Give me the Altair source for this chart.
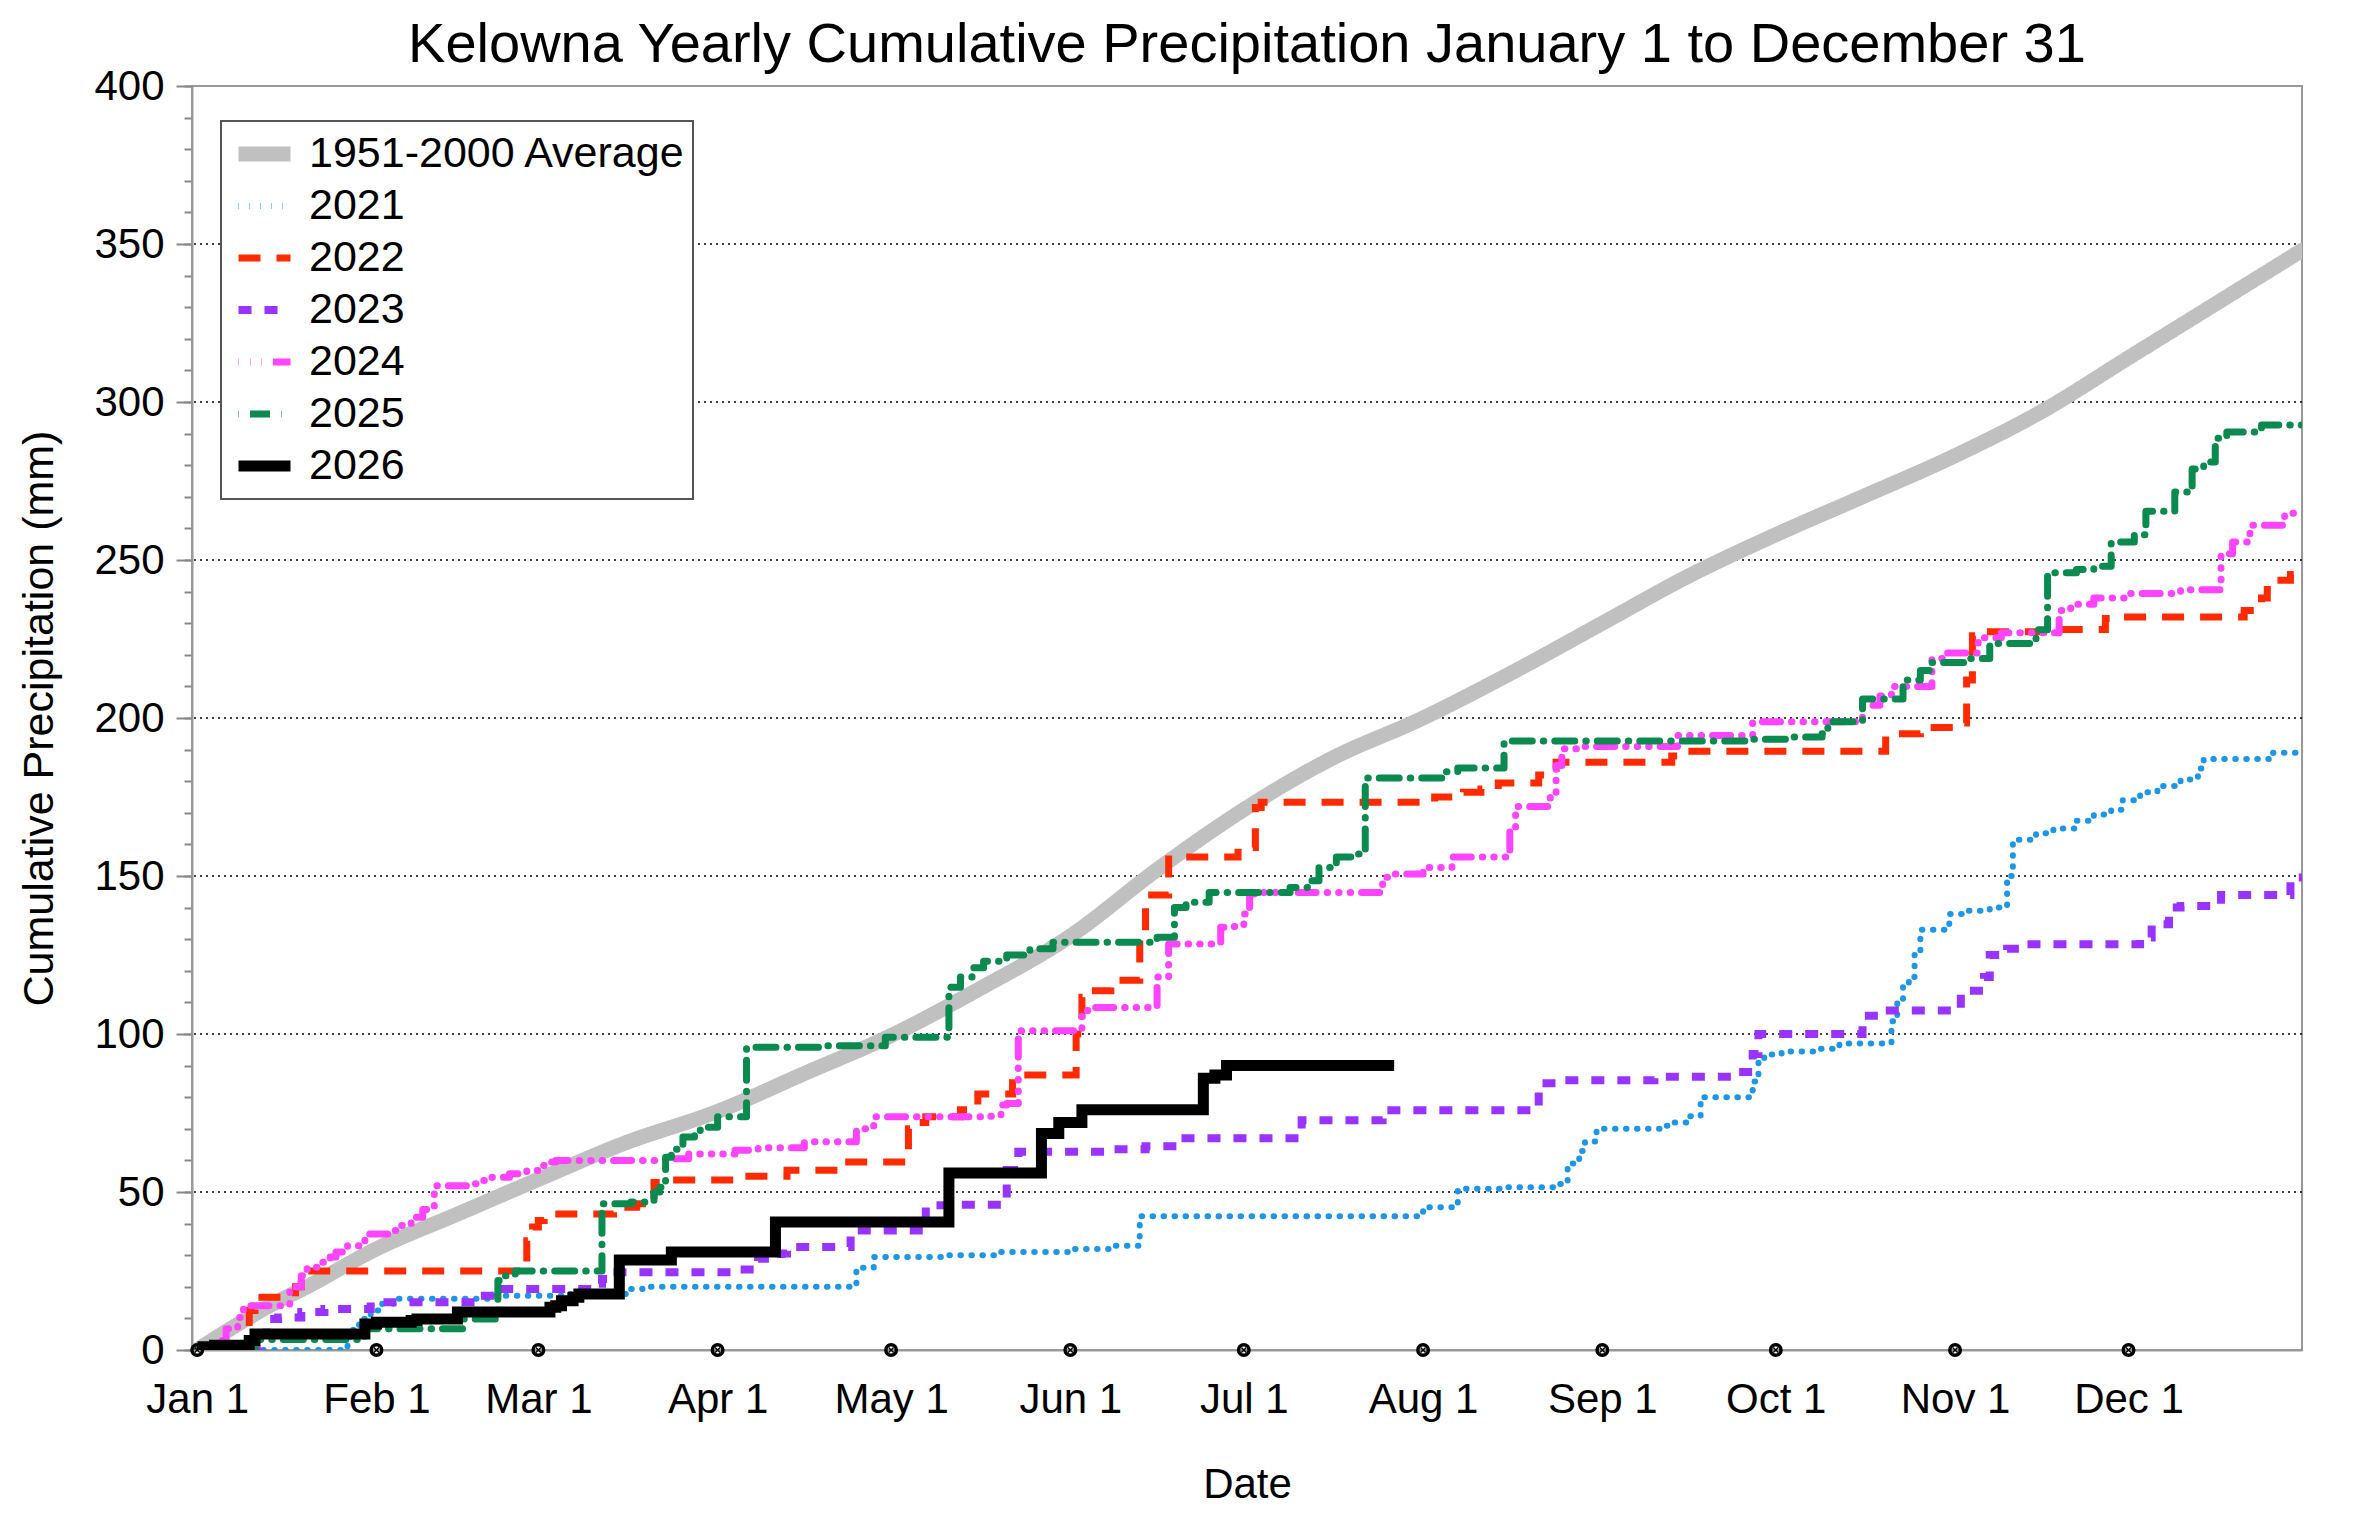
import altair as alt
import pandas as pd

# x axis is day of year, 0 = Jan 1
month_days = [0, 31, 59, 90, 120, 151, 181, 212, 243, 273, 304, 334]
month_labels = ["Jan 1", "Feb 1", "Mar 1", "Apr 1", "May 1", "Jun 1",
                "Jul 1", "Aug 1", "Sep 1", "Oct 1", "Nov 1", "Dec 1"]
grid_mm = [50, 100, 150, 200, 250, 300, 350]
major_ticks = list(range(0, 401, 50))
minor_ticks = list(range(0, 401, 10))

avg_days = [0, 6, 12, 19, 31, 45, 59, 74, 90, 105, 120, 135, 151, 166, 181,
            196, 212, 227, 243, 258, 273, 288, 304, 319, 334, 349, 364]
avg_mm = [0, 7, 13.5, 20, 32, 43, 54, 65.5, 75.5, 87.5, 99.5, 114, 131, 152, 171,
          187, 200, 214, 230, 245, 258, 270, 283, 297, 314, 331, 348]

# yearly series: day on which the running total changes, and the new total
d2021 = [0, 26, 27, 28, 30, 32, 34, 51, 64, 75, 77, 114, 117, 130, 138, 151, 158, 163,
         212, 218, 226, 235, 237, 239, 240, 242, 253, 255, 258, 260, 269, 270, 271, 274,
         280, 284, 293, 294, 295, 296, 297, 298, 303, 306, 310, 313, 314, 318, 321, 325,
         328, 331, 333, 336, 339, 343, 346, 347, 359, 364]
v2021 = [0, 4, 7, 9.8, 12.5, 14.6, 16.2, 17.2, 17.7, 19.3, 20, 26, 29.4, 30, 31, 32, 33, 42.3,
         45.2, 51, 51.5, 52.5, 59, 63, 66, 70, 71, 72, 74, 80, 85, 91.6, 93.5, 94.5,
         95.3, 97, 104, 110.5, 116, 118, 125, 133, 138, 139, 140, 150, 161.5, 163.5, 165, 167.5,
         169.5, 171, 174, 176.5, 178.5, 180.5, 184, 187, 189, 189]

d2022 = [0, 9, 10, 17, 18, 19, 57, 58, 59, 60, 72, 76, 77, 78, 79, 80, 93, 102, 111,
         123, 124, 126, 132, 135, 141, 152, 153, 154, 158, 163, 164, 168, 170, 180, 183,
         184, 214, 219, 222, 225, 232, 234, 235, 255, 257, 292, 298, 303, 306, 307, 309,
         322, 330, 332, 354, 357, 358, 362, 364]
v2022 = [0, 12.5, 16.7, 20, 24, 25, 34.6, 38.9, 41, 43, 45.2, 46.3, 47.3, 49, 53, 53.8, 55, 56.9, 59.5,
         70, 72, 73.8, 76, 81, 87, 100, 111.6, 113.7, 117, 131.6, 144, 155.4, 156, 159, 171.7,
         173.3, 175, 176.5, 177.5, 179.4, 182, 184, 186, 188, 189.5, 195, 197, 198.4, 212, 226, 227.3,
         228, 231.5, 232, 234, 238, 243.6, 245.4, 245.4]

d2023 = [0, 11, 12, 14, 18, 22, 30, 49, 52, 69, 70, 71, 93, 97, 101, 102, 113, 126, 131,
         140, 142, 158, 164, 170, 191, 205, 232, 235, 252, 266, 269, 270, 288, 292, 305,
         309, 310, 313, 316, 336, 338, 341, 343, 350, 362, 364]
v2023 = [0, 5, 9.8, 10.3, 12, 13, 15.1, 17.2, 19.3, 21, 22.5, 24.6, 25.5, 28.9, 30.5, 32.6, 37.8, 45.8, 46,
         57, 62.7, 63.5, 64.5, 67, 72.7, 75.9, 84.4, 85.4, 86.5, 88, 93.7, 100, 105.8, 107.4, 113.7,
         118, 125, 127, 128.4, 130.5, 134.7, 140, 140.5, 144, 149.5, 149.5]

d2024 = [0, 2, 4, 5, 7, 8, 16, 17, 18, 19, 21, 23, 24, 26, 29, 33, 35, 37, 39, 41, 48, 49,
         51, 54, 57, 59, 61, 62, 81, 85, 93, 97, 105, 114, 117, 137, 139, 140, 142, 153, 155,
         166, 168, 177, 179, 181, 182, 183, 205, 207, 212, 217, 227, 228, 234, 235, 236, 239,
         256, 269, 288, 291, 293, 300, 302, 308, 312, 322, 324, 328, 334, 343, 350, 352, 355,
         361, 364]
v2024 = [0, 2, 3, 6.7, 10.3, 14, 18.8, 19.9, 23.5, 26.2, 27.8, 29.4, 31, 33, 36.7, 37.8, 39.4, 42, 44.5, 52, 52.6, 53.6,
         54.7, 55.8, 56.8, 58.4, 59.5, 60, 60.5, 62, 63.2, 64, 65.9, 70, 73.8, 74, 77.5, 78, 101, 107.4, 108.4,
         118, 128.5, 133.8, 134, 138, 144.3, 144.8, 149.6, 150.6, 152.7, 156, 165, 172, 176, 185, 190.3, 191,
         194.5, 198.8, 204, 207, 210, 218.8, 220.6, 225.4, 227, 234, 236, 238, 239.4, 240.6, 252, 255.7, 261,
         264.8, 264.8]

d2025 = [0, 10, 29, 46, 52, 53, 55, 70, 75, 78, 79, 80, 81, 82, 84, 86, 87, 90, 95, 109,
         119, 130, 132, 134, 136, 140, 144, 148, 166, 169, 171, 175, 189, 192, 194, 197, 200,
         202, 216, 218, 226, 269, 275, 281, 282, 288, 295, 298, 300, 306, 310, 318, 320, 325,
         328, 331, 335, 337, 342, 345, 347, 349, 351, 357, 364]
v2025 = [0, 3.3, 6.7, 9.8, 22, 23.5, 25, 46.3, 46.8, 47.3, 50, 51.5, 61, 63.5, 67.4, 68.4, 70.5, 73.8, 95.8, 96.3,
         99, 114.8, 118, 121, 123, 125, 127, 129, 130.6, 140, 141.7, 144.8, 146.4, 148.5, 152.7, 156, 157,
         181, 183, 184.2, 192.7, 193.3, 194, 195, 198.8, 206, 212, 215, 217.6, 218.8, 223.6, 227.9, 246, 247,
         248, 255.7, 258, 265.4, 271.5, 278.8, 281, 288.5, 290.5, 292.7, 292.7]

d2026 = [0, 1, 3, 9, 10, 29, 31, 37, 38, 45, 61, 62, 63, 65, 66, 73, 82, 100, 130,
         146, 149, 153, 174, 176, 178, 207]
v2026 = [0, 1, 1.5, 3, 5.1, 8.2, 8.8, 9.3, 9.8, 12, 13.5, 14, 15.6, 16.7, 17.7, 28.5, 31, 40.5, 56,
         68.5, 72, 76, 86, 87, 90, 90]

names = ["1951-2000 Average", "2021", "2022", "2023", "2024", "2025", "2026"]
colors = ["#c0c0c0", "#1e96e6", "#ff2a00", "#9933ff", "#ff44ff", "#0a8a4f", "#000000"]
dashes = [[1, 0], [0.5, 10.5], [22, 16], [13, 13], [0.5, 11, 0.5, 11, 0.5, 11, 18, 11],
          [0.5, 11, 20, 11], [1, 0]]
widths = [15, 6, 7, 8, 7, 7, 11]
caps = ["round", "round", "butt", "butt", "round", "round", "butt"]

series = [(avg_days, avg_mm), (d2021, v2021), (d2022, v2022), (d2023, v2023),
          (d2024, v2024), (d2025, v2025), (d2026, v2026)]

x_scale = alt.Scale(domain=[-0.9, 364], nice=False, zero=False)
y_scale = alt.Scale(domain=[0, 400], nice=False)

label_expr = "{}[indexof({}, datum.value)]".format(
    str(month_labels).replace("'", '"'), str(month_days))

x_axis = alt.Axis(values=month_days, labelExpr=label_expr, title="Date", grid=False,
                  ticks=False, labelFontSize=42, labelPadding=29, labelColor="black",
                  labelOverlap=False, domainColor="#999999", domainWidth=2, titleFontSize=42,
                  titleFontWeight="normal", titleY=147, titleBaseline="alphabetic",
                  titleColor="black")
y_major = alt.Axis(values=major_ticks, orient="left", labelOverlap=False,
                   title="Cumulative Precipitation (mm)", tickSize=16,
                   tickColor="#888888", tickWidth=2, labelFontSize=42, labelPadding=12,
                   labelColor="black", domainColor="#999999", domainWidth=2, grid=False,
                   titleFontSize=43, titleFontWeight="normal", titleX=-140, titleY=632,
                   titleAngle=270, titleBaseline="alphabetic", titleColor="black")
y_minor = alt.Axis(values=minor_ticks, orient="left", labels=False, tickSize=8,
                   tickColor="#888888", tickWidth=2, domain=False, grid=False, title=None)

legend = alt.Legend(title=None, orient="none", legendX=29, legendY=35, symbolType="stroke",
                    symbolSize=2704, labelFontSize=43, labelOffset=11, labelColor="black",
                    labelLimit=1000, fillColor="white", strokeColor="#555555", padding=7,
                    rowPadding=0, symbolOffset=3, clipHeight=52,
                    labelExpr="datum.label + '\u2007\u2003'")

grid_df = pd.DataFrame({"mm": grid_mm})
grid = alt.Chart(grid_df).mark_rule(color="black", strokeDash=[2, 4], strokeWidth=1.5).encode(
    y=alt.Y("mm:Q", scale=y_scale, axis=y_minor))

layers = [grid]
for i, (days, vals) in enumerate(series):
    df = pd.DataFrame({"day": days, "mm": vals, "series": names[i]})
    mark = alt.Chart(df).mark_line(
        interpolate="monotone" if i == 0 else "step-after",
        strokeCap=caps[i], strokeJoin="round" if caps[i] == "round" else "miter",
        clip=True)
    layers.append(mark.encode(
        x=alt.X("day:Q", scale=x_scale, axis=x_axis),
        y=alt.Y("mm:Q", scale=y_scale, axis=y_major if i == 0 else None),
        color=alt.Color("series:N", scale=alt.Scale(domain=names, range=colors), legend=legend),
        strokeDash=alt.StrokeDash("series:N", scale=alt.Scale(domain=names, range=dashes), legend=legend),
        strokeWidth=alt.StrokeWidth("series:N",
                                    scale=alt.Scale(type="ordinal", domain=names, range=widths),
                                    legend=legend),
    ))

ticks_df = pd.DataFrame({"day": month_days, "mm": [0] * len(month_days)})
rings = alt.Chart(ticks_df).mark_point(shape="circle", filled=False, stroke="black",
                                       strokeWidth=3.5, size=110, opacity=1).encode(
    x=alt.X("day:Q", scale=x_scale), y=alt.Y("mm:Q", scale=y_scale, axis=None))
crosses = alt.Chart(ticks_df).mark_point(shape="M-1,-1L1,1M-1,1L1,-1", filled=False,
                                         stroke="black", strokeWidth=1.5, size=25, opacity=1).encode(
    x=alt.X("day:Q", scale=x_scale), y=alt.Y("mm:Q", scale=y_scale, axis=None))

chart = alt.layer(*layers, rings, crosses).resolve_axis(y="independent").properties(
    width=2110, height=1264,
    autosize=alt.AutoSizeParams(type="none"),
    padding={"left": 184, "top": 78, "right": 50, "bottom": 166},
    title=alt.TitleParams("Kelowna Yearly Cumulative Precipitation January 1 to December 31",
                          fontSize=56, fontWeight="normal", anchor="middle", frame="group",
                          baseline="alphabetic", offset=23, dy=76, color="black"),
).configure(
    font="Liberation Sans"
).configure_view(
    stroke="#999999", strokeWidth=2
).configure_legend(
    strokeWidth=2
)

chart.save("out.html", embed_options={"renderer": "svg", "actions": False})
